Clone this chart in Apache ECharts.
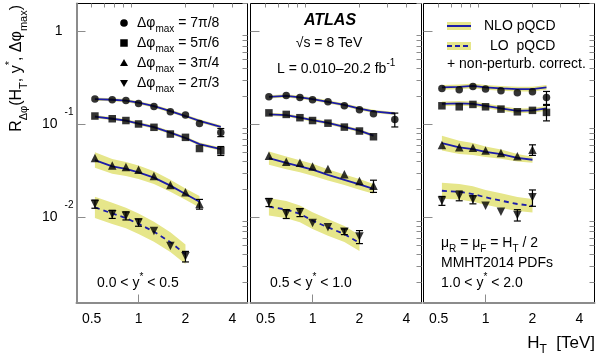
<!DOCTYPE html>
<html><head><meta charset="utf-8">
<script src="https://cdn.jsdelivr.net/npm/echarts@6/dist/echarts.min.js"></script>
<style>html,body{margin:0;padding:0;background:#fff}#c{width:599px;height:364px}</style>
</head><body><div id="c"></div>
<script>
// ---------- data ----------
const htBins = [0.525, 0.678, 0.83, 1.0, 1.256, 1.6, 2.0, 2.46, 3.37];   // H_T [TeV]
const xTickLabels = [0.5, 1, 2, 4];
const xMajorTicks = [1];
const xMinorTicks = [0.5, 0.6, 0.7, 0.8, 0.9, 2, 3, 4];
const yTickLabels = [0.01, 0.1, 1];
const yTickTexts = ['{b|10}{e|-2}', '{b|10}{e|-1}', '{o|1}'];
const yMinorTicks = [0.002,0.003,0.004,0.005,0.006,0.007,0.008,0.009,
                     0.02,0.03,0.04,0.05,0.06,0.07,0.08,0.09,
                     0.2,0.3,0.4,0.5,0.6,0.7,0.8,0.9,2];
const yRangeLabels = ['0.0 < y', '0.5 < y', '1.0 < y'];
const yRangeEnds = [' < 0.5', ' < 1.0', ' < 2.0'];
const legendLabels = ['7π/8', '5π/6', '3π/4', '2π/3'];

// panel 1 : 0.0 < y* < 0.5
const p1_d78 = [0.187, 0.184, 0.181, 0.168, 0.156, 0.137, 0.126, 0.1025, 0.082];
const p1_d56 = [0.123, 0.115, 0.110, 0.101, 0.093, 0.0787, 0.0725, 0.055, 0.052];
const p1_d34 = [0.0434, 0.0362, 0.0347, 0.0325, 0.0278, 0.0222, 0.0186, 0.0139];
const p1_d23 = [0.0139, 0.0108, 0.0104, 0.0088, 0.0071, 0.0049, 0.0038];
const p1_t78 = [0.187, 0.184, 0.180, 0.171, 0.157, 0.139, 0.123, 0.109, 0.094];
const p1_t56 = [0.121, 0.115, 0.110, 0.102, 0.0935, 0.0816, 0.0713, 0.0614, 0.0542];
const p1_t34 = [0.0413, 0.0353, 0.0331, 0.0305, 0.0267, 0.0219, 0.0178, 0.0147];
const p1_t23 = [0.0128, 0.0110, 0.0098, 0.0085, 0.0070, 0.0054, 0.0040];
const p1_e78 = [0, 0, 0, 0, 0, 0, 0, 0, 0.10];
const p1_e56 = [0, 0, 0, 0, 0, 0, 0, 0, 0.11];
const p1_e34 = [0, 0, 0, 0, 0, 0, 0, 0.12];
const p1_e23 = [0.10, 0.10, 0.10, 0.09, 0, 0, 0.13];
const p1_b78 = [0.04, 0.04, 0.04, 0.04, 0.04, 0.04, 0.04, 0.04, 0.04];
const p1_b56 = [0.04, 0.04, 0.04, 0.04, 0.04, 0.04, 0.04, 0.04, 0.04];
const p1_b34 = [0.21, 0.20, 0.19, 0.18, 0.17, 0.16, 0.15, 0.15];
const p1_b23 = [0.30, 0.30, 0.29, 0.29, 0.28, 0.28, 0.27];

// panel 2 : 0.5 < y* < 1.0
const p2_d78 = [0.198, 0.205, 0.195, 0.184, 0.175, 0.1585, 0.1435, 0.130, 0.113];
const p2_d56 = [0.133, 0.128, 0.118, 0.110, 0.103, 0.0935, 0.0848, 0.0736];
const p2_d34 = [0.046, 0.0396, 0.0386, 0.0353, 0.0331, 0.0290, 0.0246, 0.0218];
const p2_d23 = [0.0145, 0.0109, 0.0113, 0.0087, 0.0078, 0.0070, 0.0062];
const p2_t78 = [0.198, 0.203, 0.195, 0.187, 0.175, 0.162, 0.148, 0.138, 0.131];
const p2_t56 = [0.128, 0.126, 0.118, 0.111, 0.104, 0.094, 0.0857, 0.0756];
const p2_t34 = [0.0434, 0.0385, 0.0354, 0.0325, 0.0286, 0.0253, 0.0226, 0.0202];
const p2_t23 = [0.0130, 0.0121, 0.0109, 0.0092, 0.0078, 0.0066, 0.0053];
const p2_e78 = [0, 0, 0, 0, 0, 0, 0, 0, 0.17];
const p2_e56 = [0, 0, 0, 0, 0, 0, 0, 0];
const p2_e34 = [0, 0, 0, 0, 0, 0, 0, 0.15];
const p2_e23 = [0.10, 0.11, 0.10, 0, 0, 0.07, 0.16];
const p2_b78 = [0.04, 0.04, 0.04, 0.04, 0.04, 0.04, 0.04, 0.04, 0.04];
const p2_b56 = [0.04, 0.04, 0.04, 0.04, 0.04, 0.04, 0.04, 0.04];
const p2_b34 = [0.18, 0.17, 0.16, 0.16, 0.15, 0.14, 0.14, 0.13];
const p2_b23 = [0.24, 0.24, 0.23, 0.23, 0.23, 0.22, 0.22];

// panel 3 : 1.0 < y* < 2.0
const p3_d78 = [0.244, 0.2355, 0.256, 0.240, 0.230, 0.219, 0.224, 0.195];
const p3_d56 = [0.1585, 0.1546, 0.164, 0.1546, 0.146, 0.1366, 0.1415, 0.1346];
const p3_d34 = [0.060, 0.0566, 0.056, 0.0525, 0.0491, 0.0453, 0.0533];
const p3_d23 = [0.0151, 0.0171, 0.0155, 0.0133, 0.0115, 0.0106, 0.0164];
const p3_t78 = [0.250, 0.2536, 0.260, 0.250, 0.244, 0.240, 0.240, 0.250];
const p3_t56 = [0.1666, 0.168, 0.1666, 0.1585, 0.1486, 0.140, 0.1415, 0.1486];
const p3_t34 = [0.0629, 0.0566, 0.0542, 0.0507, 0.0479, 0.0437, 0.0416];
const p3_t23 = [0.0193, 0.0188, 0.0178, 0.0164, 0.0151, 0.0139, 0.0133];
const p3_e78 = [0, 0, 0, 0, 0, 0, 0, 0.16];
const p3_e56 = [0, 0, 0, 0, 0, 0, 0, 0.19];
const p3_e34 = [0, 0, 0, 0, 0, 0, 0.13];
const p3_e23 = [0.11, 0.12, 0.10, 0, 0, 0.14, 0.20];
const p3_b78 = [0.06, 0.06, 0.06, 0.06, 0.06, 0.06, 0.06, 0.06];
const p3_b56 = [0.06, 0.06, 0.06, 0.06, 0.06, 0.06, 0.06, 0.06];
const p3_b34 = [0.20, 0.18, 0.16, 0.14, 0.12, 0.10, 0.08];
const p3_b23 = [0.22, 0.21, 0.21, 0.20, 0.20, 0.19, 0.18];

// ---------- styling ----------
const FF = '"Liberation Sans", Arial, Helvetica, sans-serif';
const BAND = '#e6e68a';
const BLUE = '#1c1ca8';
const AXG = '#8c8c8c';
const markers = [
  {symbol: 'circle', size: 7.5, rotate: 0},
  {symbol: 'rect', size: 7.5, rotate: 0},
  {symbol: 'triangle', size: 8.5, rotate: 0},
  {symbol: 'triangle', size: 8.5, rotate: 180}
];
const panels = [
  {d: [p1_d78, p1_d56, p1_d34, p1_d23], t: [p1_t78, p1_t56, p1_t34, p1_t23], e: [p1_e78, p1_e56, p1_e34, p1_e23], b: [p1_b78, p1_b56, p1_b34, p1_b23]},
  {d: [p2_d78, p2_d56, p2_d34, p2_d23], t: [p2_t78, p2_t56, p2_t34, p2_t23], e: [p2_e78, p2_e56, p2_e34, p2_e23], b: [p2_b78, p2_b56, p2_b34, p2_b23]},
  {d: [p3_d78, p3_d56, p3_d34, p3_d23], t: [p3_t78, p3_t56, p3_t34, p3_t23], e: [p3_e78, p3_e56, p3_e34, p3_e23], b: [p3_b78, p3_b56, p3_b34, p3_b23]}
];
const gridBoxes = [
  {left: 76.5, top: 3.5, width: 171, height: 299},
  {left: 250.5, top: 3.5, width: 171, height: 299},
  {left: 423.5, top: 3.5, width: 171, height: 299}
];
const XMIN = 0.4, XMAX = 5, YMIN = 0.00121, YMAX = 2.0;

const rt = (o) => Object.assign({fontFamily: FF, color: '#000'}, o);
const RICH = {
  a: rt({fontSize: 14, lineHeight: 24}),
  sub: rt({fontSize: 10, lineHeight: 12, height: 12, verticalAlign: 'bottom'}),
  sup: rt({fontSize: 10, lineHeight: 12, height: 12, verticalAlign: 'top'})
};
const RICHB = {
  a: rt({fontSize: 16, lineHeight: 26}),
  sub: rt({fontSize: 11, lineHeight: 12, height: 12, verticalAlign: 'bottom'}),
  sup: rt({fontSize: 11, lineHeight: 12, height: 12, verticalAlign: 'top'})
};

const grid = [], xAxis = [], yAxis = [], series = [];
gridBoxes.forEach((g, i) => {
  grid.push(Object.assign({show: true, borderColor: '#000', borderWidth: 1, backgroundColor: 'transparent'}, g));
  // major x
  xAxis.push({type: 'log', logBase: 10, gridIndex: i, min: XMIN, max: XMAX,
    axisLine: {show: true, lineStyle: {color: AXG, width: 2}},
    axisTick: {show: true, inside: true, length: 8, customValues: xMajorTicks, lineStyle: {color: AXG, width: 1}},
    axisLabel: {show: true, customValues: xTickLabels, formatter: (v) => String(+v.toPrecision(3)),
      fontSize: 14, fontFamily: FF, color: '#000', margin: 10, lineHeight: 14},
    splitLine: {show: false}});
  // minor x
  xAxis.push({type: 'log', logBase: 10, gridIndex: i, min: XMIN, max: XMAX,
    axisLine: {show: false}, axisLabel: {show: false}, splitLine: {show: false},
    axisTick: {show: true, inside: true, length: 4, customValues: xMinorTicks, lineStyle: {color: AXG, width: 1}}});
  // major y
  yAxis.push({type: 'log', logBase: 10, gridIndex: i, min: YMIN, max: YMAX,
    axisLine: {show: i === 0, lineStyle: {color: AXG, width: 2}},
    axisTick: {show: true, inside: true, length: 9, customValues: yTickLabels, lineStyle: {color: AXG, width: 1}},
    axisLabel: {show: i === 0, customValues: yTickLabels, margin: 3,
      formatter: (v) => {
        const k = yTickLabels.findIndex(t => Math.abs(t - v) / t < 1e-6);
        return k >= 0 ? yTickTexts[k] : '';
      },
      rich: {
        b: rt({fontSize: 14, lineHeight: 36}),
        e: rt({fontSize: 10, lineHeight: 12, height: 12, verticalAlign: 'top', padding: [0, 0, 0, 7]}),
        o: rt({fontSize: 14, lineHeight: 36, padding: [0, 11, 0, 0]})
      }},
    splitLine: {show: false}});
  // minor y
  yAxis.push({type: 'log', logBase: 10, gridIndex: i, min: YMIN, max: YMAX,
    axisLine: {show: false}, axisLabel: {show: false}, splitLine: {show: false},
    axisTick: {show: true, inside: true, length: 5, customValues: yMinorTicks, lineStyle: {color: AXG, width: 1}}});
});

panels.forEach((P, i) => {
  const xa = 2 * i, ya = 2 * i;
  P.t.forEach((th, k) => {
    const x = htBins.slice(0, th.length);
    const bw = P.b[k];
    const hi = th.map((v, j) => v * (1 + bw[j]));
    const lo = th.map((v, j) => v / (1 + bw[j]));
    series.push({type: 'custom', xAxisIndex: xa, yAxisIndex: ya, z: 1, silent: true,
      data: x.map((xv, j) => [xv, lo[j], hi[j]]), encode: {x: 0, y: [1, 2]},
      renderItem: (params, api) => {
        if (params.dataIndex !== 0) return null;
        const up = x.map((xv, j) => api.coord([xv, hi[j]]));
        const dn = x.map((xv, j) => api.coord([xv, lo[j]])).reverse();
        return {type: 'polygon', shape: {points: up.concat(dn)}, style: {fill: BAND}};
      }});
    series.push({type: 'line', xAxisIndex: xa, yAxisIndex: ya, z: 2, silent: true,
      data: x.map((xv, j) => [xv, th[j]]), showSymbol: false, symbol: 'none',
      lineStyle: {color: BLUE, width: 1.8, type: k === 3 ? [5, 4] : 'solid'}});
  });
  P.d.forEach((d, k) => {
    const x = htBins.slice(0, d.length);
    const e = P.e[k];
    series.push({type: 'custom', xAxisIndex: xa, yAxisIndex: ya, z: 3, silent: true,
      data: x.map((xv, j) => [xv, d[j] * (1 - e[j]), d[j] * (1 + e[j]), e[j]]), encode: {x: 0, y: [1, 2]},
      renderItem: (params, api) => {
        if (!(api.value(3) > 0)) return null;
        const a = api.coord([api.value(0), api.value(1)]);
        const b = api.coord([api.value(0), api.value(2)]);
        const w = 3.5, st = {stroke: '#000', lineWidth: 1.2};
        return {type: 'group', children: [
          {type: 'line', shape: {x1: a[0], y1: a[1], x2: b[0], y2: b[1]}, style: st},
          {type: 'line', shape: {x1: a[0] - w, y1: a[1], x2: a[0] + w, y2: a[1]}, style: st},
          {type: 'line', shape: {x1: b[0] - w, y1: b[1], x2: b[0] + w, y2: b[1]}, style: st}
        ]};
      }});
    series.push({type: 'scatter', xAxisIndex: xa, yAxisIndex: ya, z: 4, silent: true,
      data: x.map((xv, j) => [xv, d[j]]), symbol: markers[k].symbol, symbolSize: markers[k].size,
      symbolRotate: markers[k].rotate, itemStyle: {color: '#000'}});
  });
});

// ---------- texts / legends ----------
const graphic = [];
const txt = (x, y, text, rich, align) => ({type: 'text', x: x, y: y, z: 100,
  style: {text: text, rich: rich || RICH, fontFamily: FF, fontSize: 14, fill: '#000', align: align || 'left', verticalAlign: 'middle'}});

// legend panel 1
const legY = [23, 43, 63, 83];
const lx = 124;
graphic.push({type: 'circle', z: 100, shape: {cx: lx, cy: legY[0], r: 3.8}, style: {fill: '#000'}});
graphic.push({type: 'rect', z: 100, shape: {x: lx - 3.75, y: legY[1] - 3.75, width: 7.5, height: 7.5}, style: {fill: '#000'}});
graphic.push({type: 'polygon', z: 100, shape: {points: [[lx, legY[2] - 4], [lx + 4, legY[2] + 3], [lx - 4, legY[2] + 3]]}, style: {fill: '#000'}});
graphic.push({type: 'polygon', z: 100, shape: {points: [[lx, legY[3] + 4], [lx + 4, legY[3] - 3], [lx - 4, legY[3] - 3]]}, style: {fill: '#000'}});
legendLabels.forEach((l, k) => graphic.push(txt(137, legY[k], '{a|Δφ}{sub|max}{a| = ' + l + '}')));

// panel y* ranges
const rangeX = [97, 270, 441];
rangeX.forEach((x, i) => graphic.push(txt(x, 283, '{a|' + yRangeLabels[i] + '}{sup|*}{a|' + yRangeEnds[i] + '}')));

// panel 2 labels
graphic.push({type: 'text', x: 330, y: 21, z: 100, style: {text: 'ATLAS', fontFamily: FF, fontSize: 16, fontWeight: 'bold', fontStyle: 'italic', fill: '#000', align: 'center', verticalAlign: 'middle'}});
graphic.push(txt(329, 43, '{a|√s = 8 TeV}', RICH, 'center'));
graphic.push(txt(277, 69, '{a|L = 0.010–20.2 fb}{sup|-1}'));

// panel 3 legend
graphic.push({type: 'rect', z: 100, shape: {x: 447, y: 22, width: 24, height: 8}, style: {fill: BAND}});
graphic.push({type: 'line', z: 101, shape: {x1: 447, y1: 26, x2: 471, y2: 26}, style: {stroke: BLUE, lineWidth: 2}});
graphic.push({type: 'rect', z: 100, shape: {x: 447, y: 42, width: 24, height: 8}, style: {fill: BAND}});
graphic.push({type: 'line', z: 101, shape: {x1: 447, y1: 46, x2: 471, y2: 46}, style: {stroke: BLUE, lineWidth: 2, lineDash: [5, 3]}});
graphic.push(txt(484, 26, '{a|NLO pQCD}'));
graphic.push(txt(490, 46, '{a|LO  pQCD}'));
graphic.push(txt(447, 64, '{a|+ non-perturb. correct.}'));
graphic.push(txt(441, 243, '{a|μ}{sub|R}{a| = μ}{sub|F}{a| = H}{sub|T}{a| / 2}'));
graphic.push(txt(441, 263, '{a|MMHT2014 PDFs}'));

// axis titles
graphic.push({type: 'text', x: 595, y: 343, z: 100, style: {text: '{a|H}{sub|T}{a|  [TeV]}', rich: {
  a: rt({fontSize: 17, lineHeight: 26}), sub: rt({fontSize: 12, lineHeight: 12, height: 12, verticalAlign: 'bottom'})},
  align: 'right', verticalAlign: 'middle'}});
graphic.push({type: 'text', x: 17, y: 5, z: 100, rotation: Math.PI / 2, style: {
  text: '{a|R}{sub|Δφ}{a|(H}{sub|T}{a|, y}{sup|*}{a|, Δφ}{sub|max}{a|)}', rich: RICHB,
  align: 'right', verticalAlign: 'middle'}});

const chart = echarts.init(document.getElementById('c'), null, {renderer: 'canvas'});
chart.setOption({animation: false, backgroundColor: '#fff', grid, xAxis, yAxis, series, graphic});
</script></body></html>
